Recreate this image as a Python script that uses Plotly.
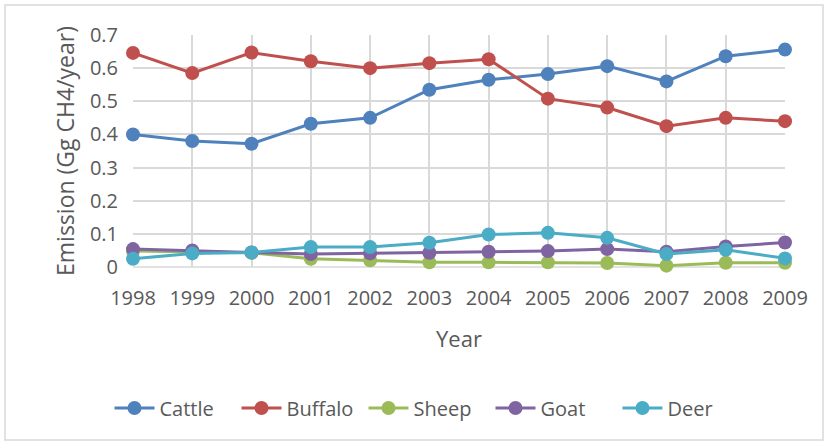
import plotly.graph_objects as go

years = ["1998","1999","2000","2001","2002","2003","2004","2005","2006","2007","2008","2009"]
cattle  = [0.400,0.380,0.372,0.432,0.450,0.535,0.565,0.582,0.606,0.560,0.636,0.656]
buffalo = [0.646,0.585,0.647,0.621,0.600,0.615,0.627,0.508,0.481,0.425,0.450,0.440]
sheep   = [0.048,0.045,0.043,0.025,0.020,0.014,0.014,0.014,0.012,0.004,0.013,0.013]
goat    = [0.054,0.050,0.044,0.039,0.041,0.043,0.046,0.048,0.054,0.046,0.062,0.074]
deer    = [0.025,0.041,0.044,0.060,0.060,0.073,0.098,0.103,0.088,0.039,0.052,0.026]
yticks = [0,0.1,0.2,0.3,0.4,0.5,0.6,0.7]
ytext = ["0","0.1","0.2","0.3","0.4","0.5","0.6","0.7"]

series = [("Cattle",cattle,"#4F81BD"),("Buffalo",buffalo,"#C0504D"),
          ("Sheep",sheep,"#9BBB59"),("Goat",goat,"#8064A2"),("Deer",deer,"#4BACC6")]

fig = go.Figure()
for name, vals, col in series:
    fig.add_trace(go.Scatter(x=list(range(len(years))), y=vals, name=name, mode="lines+markers",
                             line=dict(color=col, width=3),
                             marker=dict(color=col, size=14),
                             cliponaxis=False))

L, R, T, B = 133, 44, 35, 177
W, H = 829, 444
pw, ph = W-L-R, H-T-B
fig.update_layout(
    width=W, height=H, margin=dict(l=L, r=R, t=T, b=B, autoexpand=False),
    paper_bgcolor="white", plot_bgcolor="white",
    font=dict(family="Open Sans", size=20, color="#595959"),
    showlegend=True,
    legend=dict(orientation="h", xref="container", x=427/W, xanchor="center",
                yref="container", y=(H-408)/H, yanchor="middle",
                font=dict(size=20, color="#595959"), itemwidth=40,
                entrywidth=72, entrywidthmode="pixels"),
    xaxis=dict(tickmode="array", tickvals=list(range(len(years))), ticktext=years,
               range=[0, len(years)-1], showgrid=True, gridcolor="#D9D9D9", gridwidth=1.5,
               zeroline=False, showline=False, ticks="", tickfont=dict(size=20),
               ticklabelstandoff=17,
               title=dict(text="Year", font=dict(size=22), standoff=21)),
    yaxis=dict(tickvals=yticks, ticktext=ytext, range=[0, 0.7], showgrid=True,
               gridcolor="#D9D9D9", gridwidth=1.5, zeroline=False, showline=False, ticks="",
               tickfont=dict(size=20), ticklabelstandoff=14,
               title=dict(text="Emission (Gg CH4/year)", font=dict(size=23), standoff=8)),
)
fig.add_shape(type="line", xref="paper", yref="paper", x0=0, x1=1, y0=0, y1=0,
              line=dict(color="#D9D9D9", width=1.5), layer="below")
fig.add_shape(type="rect", xref="paper", yref="paper",
              x0=(5-L)/pw, x1=(823-L)/pw, y0=(H-B-440)/ph, y1=(H-B-5)/ph,
              line=dict(color="#D9D9D9", width=1.5))
fig.write_html("out.html")
